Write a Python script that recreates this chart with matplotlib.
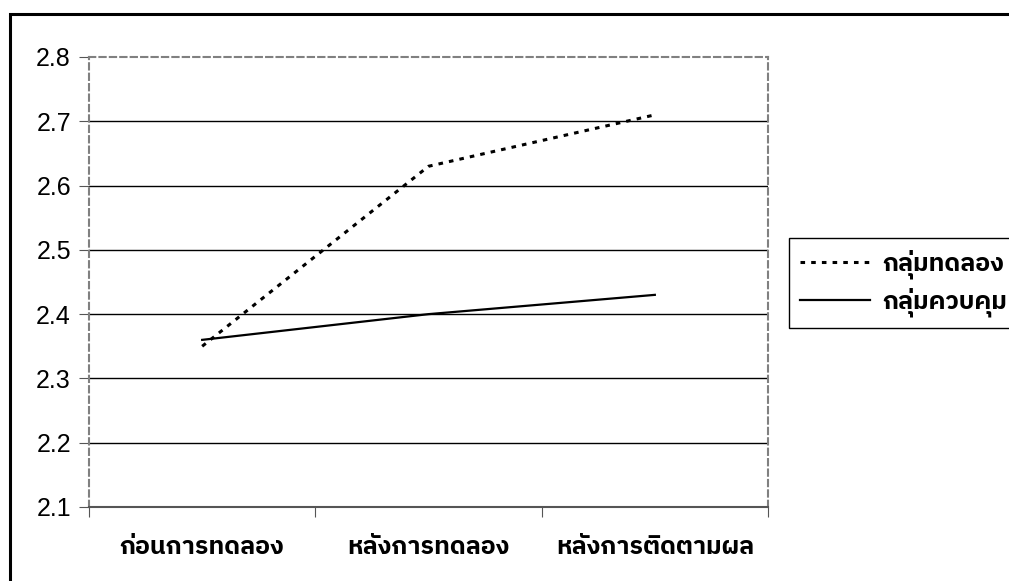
import matplotlib
matplotlib.use("Agg")
import matplotlib.pyplot as plt
from matplotlib import font_manager
from matplotlib.ft2font import FT2Font
from matplotlib.patches import Rectangle

# scores per phase
phases = ["ก่อนการทดลอง", "หลังการทดลอง", "หลังการติดตามผล"]
experimental = [2.35, 2.63, 2.71]
control = [2.36, 2.40, 2.43]
series_names = ["กลุ่มทดลอง", "กลุ่มควบคุม"]
yticks = [2.1, 2.2, 2.3, 2.4, 2.5, 2.6, 2.7, 2.8]


def find_thai_font():
    found = []
    for f in font_manager.fontManager.ttflist:
        try:
            if 0x0E01 in FT2Font(f.fname).get_charmap():
                found.append(f)
        except Exception:
            pass
    # loopless sans faces first, regular weight
    found.sort(key=lambda f: ("Looped" in f.name, "Thai" not in f.name,
                              f.weight != 400, f.style != "normal"))
    return found[0].name if found else "DejaVu Sans"


thai = find_thai_font()
plt.rcParams["font.family"] = [thai, "Liberation Sans", "DejaVu Sans"]

W, H = 1009, 581
fig = plt.figure(figsize=(W / 100, H / 100), dpi=100)

# outer chart frame, only top and left edges fall inside the image
fig.patches.append(Rectangle((10 / W, -0.1), 1.2, (H - 14) / H + 0.1,
                             transform=fig.transFigure, fill=False,
                             edgecolor="black", linewidth=2.2))

ax = fig.add_axes([89 / W, (H - 507) / H, (768 - 89) / W, (507 - 57) / H])
x = [0.5, 1.5, 2.5]
ax.set_xlim(0, 3)
ax.set_ylim(2.1, 2.8)

for y in yticks[1:-1]:
    ax.axhline(y, color="black", linewidth=1.0, zorder=1)

ax.plot(x, experimental, color="black", linewidth=2.2,
        linestyle=(0, (1.5, 2.0)), label=series_names[0], zorder=3)
ax.plot(x, control, color="black", linewidth=1.6,
        linestyle="-", label=series_names[1], zorder=3)

for side in ["top", "right", "left"]:
    ax.spines[side].set_color("#808080")
    ax.spines[side].set_linestyle((0, (3, 2)))
    ax.spines[side].set_linewidth(1.5)
ax.spines["bottom"].set_color("#555555")
ax.spines["bottom"].set_linewidth(1.5)

ax.set_yticks(yticks)
ax.set_yticklabels([f"{v:.1f}" for v in yticks], fontsize=18,
                   family=["Liberation Sans", "DejaVu Sans"])
ax.set_xticks([0, 1, 2, 3])
ax.set_xticklabels([])
ax.set_xticks(x, minor=True)
ax.set_xticklabels(phases, minor=True, fontsize=18, fontweight="bold")
ax.tick_params(axis="x", which="minor", length=0, pad=20)
ax.tick_params(axis="x", which="major", length=7, color="#555555", direction="out")
ax.tick_params(axis="y", length=7, color="#555555", direction="out", pad=6)

fig.legend(loc="upper left", bbox_to_anchor=(789 / W, 1 - 238 / H),
           borderaxespad=0, frameon=True, fancybox=False,
           edgecolor="black", framealpha=1,
           handlelength=2.8, handletextpad=0.5,
           borderpad=0.45, labelspacing=0.35,
           prop={"weight": "bold", "size": 18})

fig.savefig("out.png", dpi=100)
